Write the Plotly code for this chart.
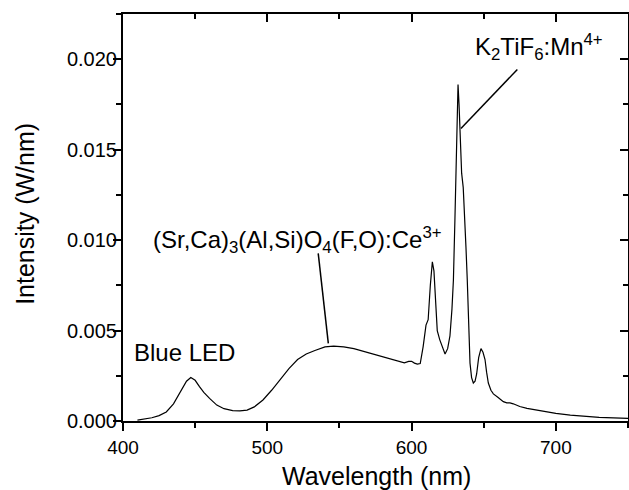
import plotly.graph_objects as go

wavelength = [410, 415, 420, 425, 430, 435, 438, 441, 444, 447, 450, 453, 456, 460, 465, 470, 476, 481, 486, 491,
              497, 503, 509, 515, 521, 527, 533, 540, 546, 553, 560, 567, 574, 581, 588, 595, 598, 600, 602, 604,
              606, 608, 610, 611.5, 613, 614.4, 615.5, 616.5, 617.8, 619.5, 621.5, 623.2, 625, 626.6, 628, 629,
              630, 630.8, 631.6, 632.2, 632.9, 633.5, 634.7, 635.8, 636.8, 637.7, 638.6, 639.3, 640.5, 641.6,
              642.8, 644, 645.1, 646.5, 648.1, 649.5, 650.9, 652, 653.2, 655, 656.7, 660, 663.6, 666, 668.2,
              670.5, 675, 680, 690, 700, 710, 720, 730, 740, 750]
intensity = [0.00005, 0.0001, 0.00018, 0.0003, 0.0005, 0.00095, 0.00135, 0.0018, 0.0022, 0.0024, 0.00225,
             0.0019, 0.00158, 0.00125, 0.00088, 0.00068, 0.00057, 0.00056, 0.0006, 0.00078, 0.00116, 0.0017,
             0.0023, 0.0029, 0.0034, 0.0037, 0.0039, 0.0041, 0.00414, 0.0041, 0.004, 0.00385, 0.0037, 0.00355,
             0.0034, 0.00322, 0.0033, 0.0033, 0.0032, 0.00315, 0.00318, 0.0041, 0.0053, 0.0056, 0.0075, 0.0088,
             0.0083, 0.0068, 0.005, 0.0045, 0.0040, 0.0037, 0.0040, 0.0047, 0.0062, 0.0078, 0.011, 0.0142,
             0.0172, 0.0186, 0.0175, 0.0161, 0.0137, 0.0129, 0.0115, 0.0096, 0.0078, 0.006, 0.0032, 0.0024,
             0.0021, 0.0022, 0.0026, 0.0035, 0.0040, 0.0038, 0.0034, 0.0027, 0.0021, 0.0017, 0.0015, 0.0013,
             0.00107, 0.001, 0.001, 0.00095, 0.0008, 0.0007, 0.00055, 0.00042, 0.00033, 0.00026, 0.0002,
             0.00017, 0.00014]

x_range = [400, 750]
y_range = [0, 0.0225]
x_ticks = [400, 500, 600, 700]
y_ticks = [0.000, 0.005, 0.010, 0.015, 0.020]
x_title = "Wavelength (nm)"
y_title = "Intensity (W/nm)"

labels = [
    dict(text="Blue LED", x=406.5, y=0.0038),
    dict(text="(Sr,Ca)<sub>3</sub>(Al,Si)O<sub>4</sub>(F,O):Ce<sup>3+</sup>", x=419.5, y=0.0100),
    dict(text="K<sub>2</sub>TiF<sub>6</sub>:Mn<sup>4+</sup>", x=642.5, y=0.0207),
]
leaders = [
    dict(x0=535.3, y0=0.00927, x1=542.3, y1=0.00429),
    dict(x0=673.3, y0=0.01943, x1=634.2, y1=0.01617),
]

FONT = "Arial, Liberation Sans, sans-serif"

fig = go.Figure()
fig.add_trace(go.Scatter(x=wavelength, y=intensity, mode="lines",
                         line=dict(color="black", width=1.2), showlegend=False))
fig.add_trace(go.Scatter(x=[x_range[0]], y=[y_range[0]], xaxis="x2", yaxis="y2",
                         mode="markers", marker=dict(opacity=0), showlegend=False, hoverinfo="skip"))

for lb in labels:
    fig.add_annotation(text=lb["text"], x=lb["x"], y=lb["y"], xref="x", yref="y",
                       xanchor="left", yanchor="middle", showarrow=False,
                       font=dict(family=FONT, size=24, color="black"))
for ld in leaders:
    fig.add_shape(type="line", xref="x", yref="y", x0=ld["x0"], y0=ld["y0"], x1=ld["x1"], y1=ld["y1"],
                  line=dict(color="black", width=1.5))

# axis titles
fig.add_annotation(text=x_title, xref="paper", yref="paper", x=0.501, y=-0.136,
                   xanchor="center", yanchor="middle", showarrow=False,
                   font=dict(family=FONT, size=25, color="black"))
fig.add_annotation(text=y_title, xref="paper", yref="paper", x=-0.194, y=0.509, textangle=-90,
                   xanchor="center", yanchor="middle", showarrow=False,
                   font=dict(family=FONT, size=25, color="black"))

axis_common = dict(showgrid=False, zeroline=False, showline=True, linecolor="black", linewidth=2,
                   tickcolor="black", tickwidth=1.5)

fig.update_layout(
    width=629, height=490,
    margin=dict(l=123, r=1, t=14, b=69, autoexpand=False),
    paper_bgcolor="white", plot_bgcolor="white",
    font=dict(family=FONT, color="black"),
    xaxis=dict(range=x_range, tickvals=x_ticks, ticks="outside", ticklen=8,
               minor=dict(dtick=50, tick0=400, ticks="outside", ticklen=5, tickcolor="black", tickwidth=1.5),
               tickfont=dict(size=19, family=FONT, color="black"),
               automargin=False, **axis_common),
    yaxis=dict(range=y_range, tickvals=y_ticks, tickformat=".3f", ticks="outside", ticklen=8,
               ticklabelstandoff=-8,
               minor=dict(dtick=0.0025, tick0=0, ticks="outside", ticklen=5, tickcolor="black", tickwidth=1.5),
               tickfont=dict(size=20, family=FONT, color="black"),
               automargin=False, **axis_common),
    xaxis2=dict(range=x_range, overlaying="x", side="top", tickvals=x_ticks, ticks="inside", ticklen=8,
                minor=dict(dtick=50, tick0=400, ticks="inside", ticklen=5, tickcolor="black", tickwidth=1.5),
                showticklabels=False, anchor="y", **axis_common),
    yaxis2=dict(range=y_range, overlaying="y", side="right", tickvals=y_ticks, ticks="inside", ticklen=8,
                minor=dict(dtick=0.0025, tick0=0, ticks="inside", ticklen=5, tickcolor="black", tickwidth=1.5),
                showticklabels=False, anchor="x", **axis_common),
)

fig.write_html("out.html")
